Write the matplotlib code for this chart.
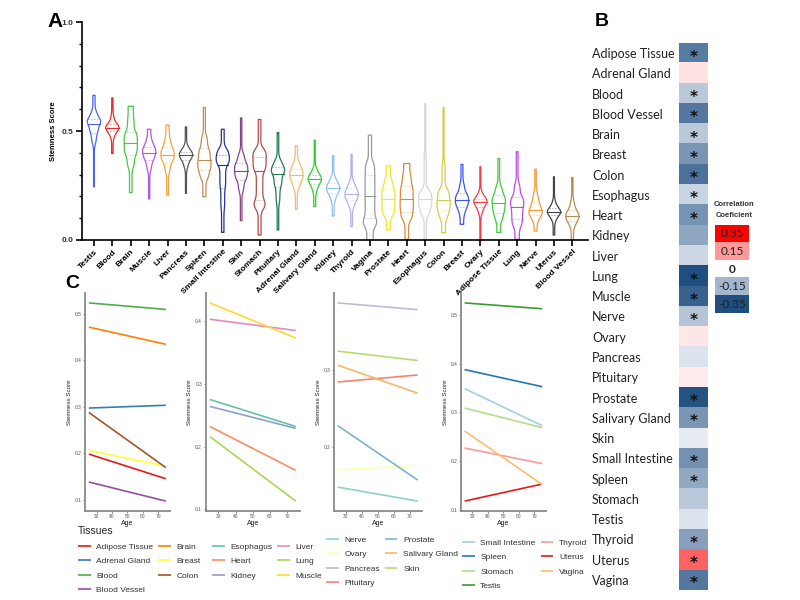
import matplotlib
matplotlib.use('Agg')
import matplotlib.pyplot as plt
import numpy as np
from matplotlib.colors import LinearSegmentedColormap
from matplotlib.ticker import MultipleLocator, FormatStrFormatter

plt.rcParams['font.family'] = 'Liberation Sans'

#-----PANEL A: stemness score distributions (values read as quantiles)-----#
violin_tissues = ['Testis', 'Blood', 'Brain', 'Muscle', 'Liver', 'Pancreas', 'Spleen',
                  'Small Intestine', 'Skin', 'Stomach', 'Pituitary', 'Adrenal Gland',
                  'Salivary Gland', 'Kidney', 'Thyroid', 'Vagina', 'Prostate', 'Heart',
                  'Esophagus', 'Colon', 'Breast', 'Ovary', 'Adipose Tissue', 'Lung',
                  'Nerve', 'Uterus', 'Blood Vessel']
violin_colors = ['#4a63f5', '#f02828', '#45c845', '#b455e6', '#f5a340', '#555555', '#c08c55',
                 '#24339a', '#8a4585', '#b84848', '#237a4a', '#f7b978', '#2ccf2c',
                 '#8fbfee', '#aeb4f2', '#9a9a9a', '#eeea2a', '#d98a3e',
                 '#d8d8d8', '#d6cc50', '#3a55f5', '#f53a48', '#3ccc3c', '#b84ee8',
                 '#f79a3a', '#444444', '#bb8a4e']
# quantile levels the lists below were read at
q_levels = [0, 0.1, 0.25, 0.5, 0.75, 0.9, 1.0]
v_min = [0.244, 0.397, 0.217, 0.188, 0.206, 0.214, 0.198, 0.035, 0.089, 0.023, 0.046, 0.140,
         0.153, 0.110, 0.061, 0.000, 0.046, 0.003, 0.003, 0.034, 0.072, 0.000, 0.034, 0.003,
         0.041, 0.023, 0.000]
v_p10 = [0.440, 0.470, 0.330, 0.320, 0.310, 0.330, 0.280, 0.140, 0.220, 0.140, 0.170, 0.230,
         0.220, 0.180, 0.150, 0.060, 0.110, 0.090, 0.110, 0.100, 0.120, 0.120, 0.090, 0.060,
         0.090, 0.090, 0.060]
v_q1 = [0.490, 0.500, 0.389, 0.366, 0.359, 0.366, 0.320, 0.237, 0.275, 0.183, 0.244, 0.267,
        0.255, 0.214, 0.183, 0.100, 0.140, 0.130, 0.145, 0.137, 0.153, 0.153, 0.125, 0.096,
        0.115, 0.115, 0.089]
v_med = [0.534, 0.516, 0.443, 0.400, 0.392, 0.389, 0.366, 0.344, 0.316, 0.316, 0.305, 0.298,
         0.279, 0.237, 0.209, 0.200, 0.190, 0.188, 0.188, 0.183, 0.183, 0.176, 0.168, 0.153,
         0.137, 0.130, 0.111]
v_q3 = [0.557, 0.530, 0.496, 0.427, 0.427, 0.405, 0.420, 0.389, 0.354, 0.382, 0.336, 0.328,
        0.298, 0.260, 0.237, 0.298, 0.237, 0.249, 0.230, 0.237, 0.214, 0.190, 0.206, 0.198,
        0.176, 0.145, 0.137]
v_p90 = [0.590, 0.570, 0.560, 0.460, 0.470, 0.430, 0.480, 0.420, 0.400, 0.420, 0.370, 0.360,
         0.330, 0.290, 0.270, 0.360, 0.280, 0.300, 0.400, 0.360, 0.260, 0.220, 0.250, 0.260,
         0.220, 0.180, 0.180]
v_max = [0.664, 0.652, 0.614, 0.508, 0.527, 0.519, 0.608, 0.508, 0.560, 0.553, 0.493, 0.432,
         0.458, 0.386, 0.394, 0.481, 0.340, 0.351, 0.626, 0.608, 0.347, 0.336, 0.374, 0.405,
         0.325, 0.290, 0.287]

#-----PANEL B: correlation with age-----#
heat_tissues = ['Adipose Tissue', 'Adrenal Gland', 'Blood', 'Blood Vessel', 'Brain', 'Breast',
                'Colon', 'Esophagus', 'Heart', 'Kidney', 'Liver', 'Lung', 'Muscle', 'Nerve',
                'Ovary', 'Pancreas', 'Pituitary', 'Prostate', 'Salivary Gland', 'Skin',
                'Small Intestine', 'Spleen', 'Stomach', 'Testis', 'Thyroid', 'Uterus', 'Vagina']
heat_corr = [-0.26, 0.04, -0.11, -0.27, -0.11, -0.21, -0.28, -0.085, -0.215, -0.18, -0.08,
             -0.35, -0.31, -0.12, 0.035, -0.055, 0.03, -0.34, -0.21, -0.04, -0.22, -0.175,
             -0.11, -0.055, -0.19, 0.22, -0.27]
heat_sig = [1, 0, 1, 1, 1, 1, 1, 1, 1, 0, 0, 1, 1, 1, 0, 0, 0, 1, 1, 0, 1, 1, 0, 0, 1, 1, 1]
legend_vals = [0.35, 0.15, 0, -0.15, -0.35]
legend_text = ['0.35', '0.15', '0', '-0.15', '-0.35']

#-----PANEL C: linear fits of stemness score vs age-----#
ages = [25, 75]
c_names = [['Adipose Tissue', 'Adrenal Gland', 'Blood', 'Blood Vessel', 'Brain', 'Breast', 'Colon'],
           ['Esophagus', 'Heart', 'Kidney', 'Liver', 'Lung', 'Muscle'],
           ['Nerve', 'Ovary', 'Pancreas', 'Pituitary', 'Prostate', 'Salivary Gland', 'Skin'],
           ['Small Intestine', 'Spleen', 'Stomach', 'Testis', 'Thyroid', 'Uterus', 'Vagina']]
c_colors = [['#e41a1c', '#377eb8', '#4daf4a', '#984ea3', '#ff7f00', '#ffff33', '#a65628'],
            ['#66c2a5', '#fc8d62', '#8da0cb', '#e78ac3', '#a6d854', '#ffd92f'],
            ['#8dd3c7', '#ffffb3', '#bebada', '#fb8072', '#80b1d3', '#fdb462', '#b3de69'],
            ['#a6cee3', '#1f78b4', '#b2df8a', '#33a02c', '#fb9a99', '#e31a1c', '#fdbf6f']]
c_start = [[0.198, 0.297, 0.523, 0.138, 0.471, 0.206, 0.2875],
           [0.275, 0.232, 0.264, 0.403, 0.216, 0.429],
           [0.149, 0.171, 0.3856, 0.284, 0.228, 0.3057, 0.3237],
           [0.349, 0.388, 0.309, 0.525, 0.227, 0.118, 0.262]]
c_end = [[0.145, 0.303, 0.509, 0.097, 0.434, 0.172, 0.169],
         [0.232, 0.162, 0.229, 0.385, 0.113, 0.373],
         [0.131, 0.177, 0.377, 0.293, 0.158, 0.2696, 0.3116],
         [0.273, 0.353, 0.269, 0.513, 0.195, 0.153, 0.152]]


def quantile_violin(qs, smooth=0.015):
    # density from the read quantiles (mass between neighbours / spacing), lightly smoothed
    qs = np.asarray(qs, dtype=float)
    coords = np.linspace(qs[0], qs[-1], 300)
    dens = np.zeros_like(coords)
    for j in range(len(qs) - 1):
        inside = (coords >= qs[j]) & (coords <= qs[j + 1])
        dens[inside] = (q_levels[j + 1] - q_levels[j]) / max(qs[j + 1] - qs[j], 1e-3)
    sig = smooth / (coords[1] - coords[0])
    k = np.arange(-int(3 * sig), int(3 * sig) + 1)
    kern = np.exp(-0.5 * (k / sig) ** 2)
    kern /= kern.sum()
    dens = np.convolve(np.pad(dens, len(k) // 2, mode='edge'), kern, mode='valid')
    return dict(coords=coords, vals=dens, mean=qs.mean(), median=qs[3], min=qs[0], max=qs[-1])


fig = plt.figure(figsize=(8, 6), dpi=100)

# ---- A ----
axA = fig.add_axes([0.1025, 0.6, 0.6325, 0.3633])
pos = np.arange(len(violin_tissues))
stats = [quantile_violin(s) for s in zip(v_min, v_p10, v_q1, v_med, v_q3, v_p90, v_max)]
parts = axA.violin(stats, positions=pos, widths=0.72, showextrema=False)
for i, body in enumerate(parts['bodies']):
    body.set_facecolor('none')
    body.set_edgecolor(violin_colors[i])
    body.set_linewidth(0.9)
    body.set_alpha(1)
    verts = body.get_paths()[0].vertices
    right = verts[verts[:, 0] >= pos[i]]
    order = np.argsort(right[:, 1])
    ys, xs = right[order, 1], right[order, 0]
    for q, ls, a in [(v_q1[i], ':', 0.55), (v_med[i], '-', 1.0), (v_q3[i], ':', 0.55)]:
        half = np.interp(q, ys, xs) - pos[i]
        axA.plot([pos[i] - half, pos[i] + half], [q, q], color=violin_colors[i],
                 lw=0.8, ls=ls, alpha=a)

axA.set_xlim(-0.65, 26.85)
axA.set_ylim(0, 1)
axA.spines[['top', 'right']].set_visible(False)
for s in ['left', 'bottom']:
    axA.spines[s].set_linewidth(1.2)
axA.set_yticks([0, 0.5, 1.0])
axA.set_yticks(np.arange(0.1, 1.0, 0.1), minor=True)
axA.set_yticklabels(['0.0', '0.5', '1.0'], fontsize=6, fontweight='bold', color='#333333')
axA.set_xticks(pos)
axA.set_xticklabels(violin_tissues, rotation=45, ha='right', rotation_mode='anchor',
                    fontsize=6, fontweight='bold')
axA.tick_params(axis='x', length=4, width=1.2, pad=2)
axA.tick_params(axis='y', which='major', length=4, width=1.2, pad=2)
axA.tick_params(axis='y', which='minor', length=2.5, width=1)
axA.set_ylabel('Stemness Score', fontsize=5.5, fontweight='bold')
axA.yaxis.set_label_coords(-0.049, 0.5)

# ---- B ----
cmap = LinearSegmentedColormap.from_list(
    'corr', [(0, '#1f4e80'), (0.2857, '#a3b6cd'), (0.5, '#ffffff'),
             (0.7143, '#ff9999'), (1, '#ff0000')])
axB = fig.add_axes([0.84875, 0.01667, 0.03625, 0.91167])
axB.imshow(np.array(heat_corr)[:, None], cmap=cmap, vmin=-0.35, vmax=0.35, aspect='auto')
axB.set_xticks([])
axB.set_yticks(np.arange(len(heat_tissues)))
axB.set_yticklabels(heat_tissues, fontsize=9, family='Lato', color='#222222', ha='left')
axB.tick_params(axis='y', length=0, pad=62.6)
for s in axB.spines.values():
    s.set_visible(False)
for i, sig in enumerate(heat_sig):
    if sig:
        axB.text(0, i + 0.2, '*', ha='center', va='center', fontsize=11,
                 fontweight='bold', family='DejaVu Sans', color='#111111')

axL = fig.add_axes([0.89375, 0.47833, 0.0425, 0.14667])
axL.imshow(np.array(legend_vals)[:, None], cmap=cmap, vmin=-0.35, vmax=0.35, aspect='auto')
for i, t in enumerate(legend_text):
    axL.text(0, i, t, ha='center', va='center', fontsize=8.5, family='Lato',
             color='#222222', fontweight='bold' if t == '0' else 'normal')
axL.axis('off')
fig.text(734 / 800, 1 - 204 / 600, 'Correlation', ha='center', va='center',
         fontsize=5.5, fontweight='bold', color='#333333')
fig.text(734 / 800, 1 - 215 / 600, 'Coeficient', ha='center', va='center',
         fontsize=5.5, fontweight='bold', color='#333333')

# ---- C ----
c_axes_pos = [[0.10625, 0.1059], [0.2569, 0.1181], [0.4171, 0.110], [0.5759, 0.1066]]
legend_anchor = [(78 / 800, 1 - 543 / 600), (212 / 800, 1 - 543 / 600),
                 (326 / 800, 1 - 536 / 600), (462 / 800, 1 - 539 / 600)]
for k in range(4):
    ax = fig.add_axes([c_axes_pos[k][0], 0.14833, c_axes_pos[k][1], 0.36333])
    for name, col, s, e in zip(c_names[k], c_colors[k], c_start[k], c_end[k]):
        ax.plot(ages, [s, e], color=col, lw=1.2, label=name, solid_capstyle='butt')
    ax.set_xticks([30, 40, 50, 60, 70])
    ax.yaxis.set_major_locator(MultipleLocator(0.1))
    ax.yaxis.set_major_formatter(FormatStrFormatter('%.1f'))
    ax.spines[['top', 'right']].set_visible(False)
    for s in ['left', 'bottom']:
        ax.spines[s].set_color('#8a8a8a')
        ax.spines[s].set_linewidth(1.3)
    ax.tick_params(labelsize=3.5, labelcolor='#555555', color='#555555', length=1.5,
                   width=0.5, pad=1)
    ax.set_xlabel('Age', fontsize=5, color='#222222', labelpad=0.5)
    ax.set_ylabel('Stemness Score', fontsize=4.5, color='#222222', labelpad=2)
    h, l = ax.get_legend_handles_labels()
    leg = fig.legend(h, l, loc='upper left', bbox_to_anchor=legend_anchor[k], ncol=2,
                     fontsize=6, frameon=False, handlelength=1.5, handletextpad=0.7,
                     columnspacing=0.6, labelspacing=0.8, borderpad=0, borderaxespad=0)
    for t in leg.get_texts():
        t.set_color('#333333')
fig.text(78 / 800, 1 - 531 / 600, 'Tissues', fontsize=7.5, va='center', color='#222222')

fig.text(47 / 800, 1 - 27 / 600, 'A', fontsize=15, fontweight='bold', va='baseline')
fig.text(595 / 800, 1 - 26 / 600, 'B', fontsize=14, fontweight='bold', va='baseline')
fig.text(65 / 800, 1 - 288 / 600, 'C', fontsize=14, fontweight='bold', va='baseline')

fig.savefig('out.png', dpi=100)
